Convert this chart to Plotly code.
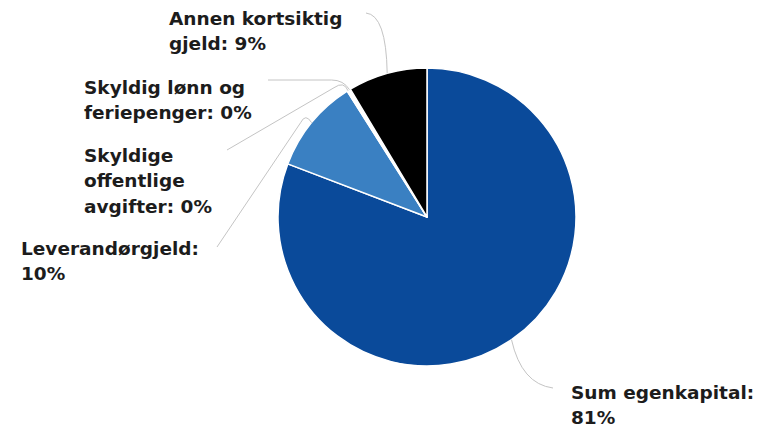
import math
import plotly.graph_objects as go

labels = ["Sum egenkapital", "Leverandørgjeld", "Skyldige offentlige avgifter",
          "Skyldig lønn og feriepenger", "Annen kortsiktig gjeld"]
values = [80.8, 10.2, 0.2, 0.2, 8.6]
label_lines = [["Sum egenkapital:", "81%"], ["Leverandørgjeld:", "10%"],
               ["Skyldige", "offentlige", "avgifter: 0%"],
               ["Skyldig lønn og", "feriepenger: 0%"], ["Annen kortsiktig", "gjeld: 9%"]]
colors = ["#0a4a9a", "#3a80c2", "#ffffff", "#ffffff", "#000000"]

W, H = 765, 430
cx, cy, r = 427, 217, 149

fig = go.Figure()
fig.add_trace(go.Pie(
    labels=labels, values=values, sort=False, direction="clockwise", rotation=0,
    marker=dict(colors=colors, line=dict(color="white", width=1.5)),
    textinfo="none", hoverinfo="label+percent", showlegend=False,
    domain=dict(x=[(cx - r) / W, (cx + r) / W], y=[(H - cy - r) / H, (H - cy + r) / H]),
))

# label anchors: left x, centre y of first line; line spacing
label_pos = [(569, 392), (19, 248), (82, 155), (82, 87), (167, 18)]
line_gap = 25.5
leader_end = [(553, 388), (217, 247), (227, 150), (268, 80), (366, 13)]

total = sum(values)
cum = 0
shapes = []
annotations = []
for i, v in enumerate(values):
    mid = (cum + v / 2) / total * 2 * math.pi
    cum += v
    sx = cx + r * math.sin(mid)
    sy = cy - r * math.cos(mid)
    ex, ey = leader_end[i]
    if i == 0:
        path = f"M {sx:.1f} {sy:.1f} Q {sx + 10:.1f} {ey - 4:.1f} {ex} {ey}"
    elif i == 1:
        path = f"M {sx:.1f} {sy:.1f} Q {sx - 6:.1f} {sy - 10:.1f} {sx - 11:.1f} {sy:.1f} L {ex} {ey}"
    elif i == 2:
        path = f"M {sx:.1f} {sy:.1f} Q {sx - 4:.1f} {sy - 10:.1f} {sx - 14:.1f} {sy - 3:.1f} L {ex} {ey}"
    elif i == 3:
        path = f"M {sx:.1f} {sy:.1f} Q {sx - 6:.1f} {ey:.1f} {sx - 18:.1f} {ey:.1f} L {ex} {ey}"
    else:
        path = f"M {sx:.1f} {sy:.1f} Q {sx - 1:.1f} {ey + 2:.1f} {ex} {ey}"
    shapes.append(dict(type="path", path=path, xref="x", yref="y",
                       line=dict(color="#c4c4c4", width=1)))
    lx, ly = label_pos[i]
    for j, t in enumerate(label_lines[i]):
        annotations.append(dict(x=lx, y=ly + j * line_gap, xref="x", yref="y",
                                xanchor="left", yanchor="middle",
                                text=f"<b>{t}</b>", showarrow=False, align="left",
                                font=dict(family="DejaVu Sans", size=18.5, color="#1c1c1c")))

fig.update_layout(
    width=W, height=H, margin=dict(l=0, r=0, t=0, b=0),
    paper_bgcolor="white", plot_bgcolor="rgba(0,0,0,0)",
    xaxis=dict(range=[0, W], visible=False, fixedrange=True),
    yaxis=dict(range=[H, 0], visible=False, fixedrange=True),
    shapes=shapes, annotations=annotations,
)
fig.write_html("out.html", config={"displayModeBar": False},
               post_script="document.body.style.margin='0';document.body.style.overflow='hidden';")
